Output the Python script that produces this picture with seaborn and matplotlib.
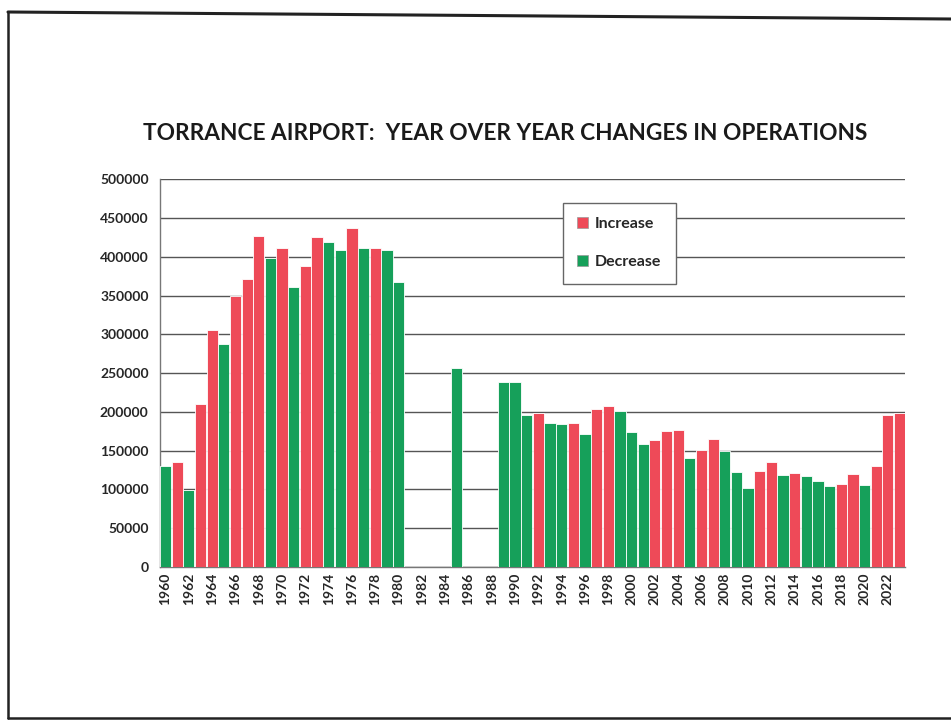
import numpy as np
import pandas as pd
import matplotlib
matplotlib.use('Agg')
import matplotlib.pyplot as plt
from matplotlib.lines import Line2D
from matplotlib.patches import Patch
import seaborn as sns

# ---------------------------------------------------------------------------
# data (None = no bar for that year)
# ---------------------------------------------------------------------------
years = [1960, 1961, 1962, 1963, 1964, 1965, 1966, 1967, 1968, 1969,
         1970, 1971, 1972, 1973, 1974, 1975, 1976, 1977, 1978, 1979,
         1980, 1981, 1982, 1983, 1984, 1985, 1986, 1987, 1988, 1989,
         1990, 1991, 1992, 1993, 1994, 1995, 1996, 1997, 1998, 1999,
         2000, 2001, 2002, 2003, 2004, 2005, 2006, 2007, 2008, 2009,
         2010, 2011, 2012, 2013, 2014, 2015, 2016, 2017, 2018, 2019,
         2020, 2021, 2022, 2023]

operations = [130000, 135000, 99000, 210000, 306000, 287000, 349000, 371000, 427000, 399000,
              411000, 361000, 388000, 425000, 419000, 409000, 437000, 411000, 412000, 409000,
              367000, None, None, None, None, 257000, None, None, None, 239000,
              238000, 196000, 199000, 186000, 184000, 185000, 171000, 204000, 208000, 201000,
              174000, 158000, 164000, 175000, 177000, 140000, 151000, 165000, 149000, 123000,
              102000, 124000, 135000, 119000, 121000, 117000, 111000, 104000, 107000, 120000,
              106000, 130000, 196000, 199000]

direction = ['Decrease', 'Increase', 'Decrease', 'Increase', 'Increase', 'Decrease', 'Increase', 'Increase', 'Increase', 'Decrease',
             'Increase', 'Decrease', 'Increase', 'Increase', 'Decrease', 'Decrease', 'Increase', 'Decrease', 'Increase', 'Decrease',
             'Decrease', 'Decrease', 'Decrease', 'Decrease', 'Decrease', 'Decrease', 'Decrease', 'Decrease', 'Decrease', 'Decrease',
             'Decrease', 'Decrease', 'Increase', 'Decrease', 'Decrease', 'Increase', 'Decrease', 'Increase', 'Increase', 'Decrease',
             'Decrease', 'Decrease', 'Increase', 'Increase', 'Increase', 'Decrease', 'Increase', 'Increase', 'Decrease', 'Decrease',
             'Decrease', 'Increase', 'Increase', 'Decrease', 'Increase', 'Decrease', 'Decrease', 'Decrease', 'Increase', 'Increase',
             'Decrease', 'Increase', 'Increase', 'Increase']

red = '#EE4A58'
green = '#16A05A'

df = pd.DataFrame({'year': [str(y) for y in years],
                   'ops': [np.nan if v is None else v for v in operations],
                   'dir': direction})

sns.set_style('white')
plt.rcParams['font.family'] = ['Lato', 'DejaVu Sans']

fig = plt.figure(figsize=(9.51, 7.23), dpi=100)
ax = fig.add_axes([0.168, 0.216, 0.784, 0.536])

sns.barplot(data=df, x='year', y='ops', hue='dir', order=df['year'].tolist(),
            hue_order=['Increase', 'Decrease'], palette={'Increase': red, 'Decrease': green},
            dodge=False, width=0.96, errorbar=None, edgecolor='white', linewidth=0.6,
            saturation=1, ax=ax, zorder=3)

ax.set_ylim(0, 500000)
ax.set_xlim(-0.5, len(years) - 0.5)
ax.set_yticks(np.arange(0, 500001, 50000))
ax.set_yticklabels([str(v) for v in range(0, 500001, 50000)], fontweight='bold', fontsize=10)
ax.yaxis.grid(True, color='#555555', linewidth=1.0, zorder=0)
ax.xaxis.grid(False)

xt = list(range(len(years)))
ax.set_xticks(xt)
ax.set_xticklabels([str(y) if (y % 2 == 0) else '' for y in years],
                   rotation=90, fontweight='bold', fontsize=10)
ax.set_xticks(np.arange(-0.5, len(years), 1), minor=True)
ax.tick_params(axis='x', which='major', length=0, pad=4)
ax.tick_params(axis='x', which='minor', length=4, color='#777777', direction='out')
ax.tick_params(axis='y', length=5, color='#777777', direction='out', pad=3)
ax.set_xlabel('')
ax.set_ylabel('')

for side in ['top', 'right']:
    ax.spines[side].set_visible(False)
for side in ['left', 'bottom']:
    ax.spines[side].set_color('#777777')
    ax.spines[side].set_linewidth(1.0)

ax.legend(handles=[Patch(facecolor=red, edgecolor='#999999', linewidth=0.5),
                   Patch(facecolor=green, edgecolor='#999999', linewidth=0.5)],
          labels=['Increase', 'Decrease'], loc='upper left', bbox_to_anchor=(0.53, 0.96),
          frameon=True, fancybox=False, edgecolor='#666666', framealpha=1,
          handlelength=0.7, handleheight=0.7, handletextpad=0.4, labelspacing=1.5,
          borderpad=0.9, prop={'weight': 'bold', 'size': 11.5})

fig.text(0.531, 0.816, 'TORRANCE AIRPORT:  YEAR OVER YEAR CHANGES IN OPERATIONS',
         ha='center', va='center', fontsize=16.3, fontweight='bold', color='#1a1a1a')

# scanned page frame
W, H = 951.0, 723.0
fig.add_artist(Line2D([8 / W, 1.0], [1 - 12 / H, 1 - 19 / H], color='#222222', linewidth=2.2))
fig.add_artist(Line2D([8 / W, 8 / W], [1 - 12 / H, 1 - 718 / H], color='#222222', linewidth=1.8))
fig.add_artist(Line2D([8 / W, 1.0], [1 - 718 / H, 1 - 718 / H], color='#222222', linewidth=1.8))

fig.savefig('out.png', dpi=100)
